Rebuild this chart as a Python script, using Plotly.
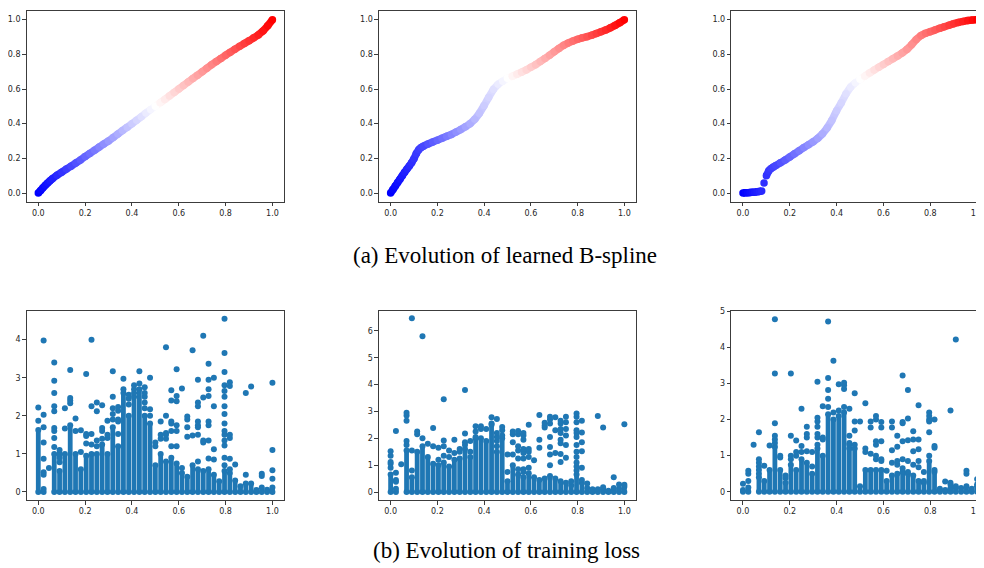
import plotly.graph_objects as go

# ---------------- data: learned B-spline curves ----------------
spline1_x = [0.00, 0.01, 0.02, 0.03, 0.04, 0.05, 0.06, 0.08, 0.10, 0.12, 0.14, 0.16, 0.18, 0.20,
             0.22, 0.24, 0.26, 0.28, 0.30, 0.32, 0.34, 0.36, 0.38, 0.40, 0.42, 0.44, 0.46, 0.48,
             0.50, 0.52, 0.54, 0.56, 0.58, 0.60, 0.62, 0.64, 0.66, 0.68, 0.70, 0.72, 0.74, 0.76,
             0.78, 0.80, 0.82, 0.84, 0.86, 0.88, 0.90, 0.92, 0.94, 0.96, 0.98, 1.00]
spline1_y = [0.000, 0.015, 0.030, 0.045, 0.058, 0.070, 0.082, 0.103, 0.120, 0.138, 0.155, 0.173,
             0.190, 0.210, 0.228, 0.246, 0.265, 0.283, 0.300, 0.320, 0.340, 0.360, 0.380, 0.400,
             0.420, 0.440, 0.462, 0.482, 0.500, 0.520, 0.540, 0.560, 0.580, 0.600, 0.620, 0.640,
             0.660, 0.680, 0.700, 0.720, 0.740, 0.758, 0.776, 0.795, 0.812, 0.830, 0.846, 0.862,
             0.878, 0.895, 0.912, 0.935, 0.965, 1.000]

spline2_x = [0.00, 0.01, 0.02, 0.03, 0.04, 0.05, 0.06, 0.07, 0.08, 0.09, 0.10, 0.11, 0.12, 0.13,
             0.14, 0.16, 0.18, 0.20, 0.22, 0.24, 0.26, 0.28, 0.30, 0.32, 0.34, 0.36, 0.38, 0.40,
             0.42, 0.44, 0.46, 0.48, 0.50, 0.52, 0.54, 0.56, 0.58, 0.60, 0.62, 0.64, 0.66, 0.68,
             0.70, 0.72, 0.74, 0.76, 0.78, 0.80, 0.82, 0.84, 0.86, 0.88, 0.90, 0.92, 0.94, 0.96,
             0.98, 1.00]
spline2_y = [0.000, 0.020, 0.040, 0.060, 0.080, 0.100, 0.120, 0.138, 0.156, 0.175, 0.198, 0.228,
             0.250, 0.262, 0.270, 0.283, 0.294, 0.305, 0.316, 0.327, 0.338, 0.352, 0.366, 0.382,
             0.400, 0.425, 0.460, 0.505, 0.553, 0.598, 0.628, 0.645, 0.662, 0.673, 0.685, 0.697,
             0.710, 0.725, 0.740, 0.758, 0.776, 0.795, 0.815, 0.834, 0.852, 0.866, 0.877, 0.887,
             0.895, 0.902, 0.910, 0.920, 0.930, 0.940, 0.953, 0.967, 0.982, 1.000]

spline3_x = [0.00, 0.01, 0.02, 0.03, 0.04, 0.05, 0.06, 0.07, 0.08, 0.09, 0.10, 0.11, 0.12, 0.13,
             0.14, 0.16, 0.18, 0.20, 0.22, 0.24, 0.26, 0.28, 0.30, 0.32, 0.34, 0.36, 0.38, 0.40,
             0.42, 0.44, 0.46, 0.48, 0.50, 0.52, 0.54, 0.56, 0.58, 0.60, 0.62, 0.64, 0.66, 0.68,
             0.70, 0.72, 0.74, 0.76, 0.78, 0.80, 0.82, 0.84, 0.86, 0.88, 0.90, 0.92, 0.94, 0.96,
             0.98, 1.00]
spline3_y = [0.000, 0.001, 0.002, 0.003, 0.004, 0.005, 0.007, 0.009, 0.012, 0.058, 0.100, 0.128,
             0.142, 0.150, 0.158, 0.174, 0.190, 0.208, 0.226, 0.244, 0.262, 0.279, 0.296, 0.316,
             0.342, 0.376, 0.420, 0.475, 0.520, 0.572, 0.612, 0.636, 0.656, 0.674, 0.692, 0.709,
             0.726, 0.742, 0.758, 0.774, 0.790, 0.808, 0.828, 0.855, 0.886, 0.908, 0.922, 0.931,
             0.940, 0.950, 0.959, 0.968, 0.977, 0.984, 0.990, 0.995, 0.998, 1.000]

# ---------------- data: training loss scatter ----------------
# samples sit on 45 input columns, x = k / 44
n_cols = 44
# height of the solid stack of points in every column (None = no stack)
loss1_stack = [1.63, 0.08, None, 1.0, 0.55, 1.0, 1.75, 1.0, 0.6, 0.95, 1.0, 1.0, 1.25, 1.0, 1.7,
               1.2, 2.6, 2.0, 2.5, 2.7, 2.0, 1.8, 0.7, 1.0, 0.8, 0.9, 0.75, 0.5, 0.4, 0.7, 0.6,
               0.55, 0.6, 0.45, 0.28, 0.55, 0.5, 0.3, 0.15, 0.22, 0.22, 0.05, 0.12, 0.06, 0.12]
loss1_extra = {
    0: [1.87, 2.22], 1: [0.45, 0.52, 0.87, 1.3, 1.7, 2.03, 3.98], 2: [0.63],
    3: [1.18, 1.42, 1.6, 1.68, 2.12, 2.25, 2.6, 2.92, 3.4], 4: [0.78, 0.9, 1.0, 1.1],
    5: [1.67, 2.2], 6: [2.33, 2.4, 2.47, 3.2], 7: [1.6, 1.93], 8: [1.05, 1.62],
    9: [1.27, 1.47, 1.52, 3.1], 10: [1.25, 1.52, 2.25, 4.0], 11: [1.2, 1.35, 2.12, 2.35],
    12: [1.4, 1.6, 1.68, 2.28], 13: [1.42, 1.5, 1.87], 14: [1.9, 2.05, 2.2, 2.5, 3.17],
    15: [1.52, 1.85, 1.9, 2.13, 2.23], 16: [2.7, 2.97], 17: [2.3, 2.45, 2.55],
    18: [2.6, 2.7, 2.8], 19: [2.85, 3.17], 20: [2.2, 2.35, 2.5, 2.6, 2.75], 21: [2.0, 2.17, 3.0],
    22: [1.2, 1.3], 23: [1.4, 1.5, 1.85], 24: [1.4, 1.5, 1.55, 2.0, 3.8],
    25: [1.2, 1.6, 1.8, 1.85, 2.4, 2.67], 26: [1.2, 1.6, 1.75, 2.38, 2.52, 3.22], 27: [0.63, 2.72],
    28: [1.45, 1.7, 1.9, 1.98], 29: [1.48, 3.72], 30: [0.8, 1.5, 1.7, 1.75, 1.85, 2.25, 2.35, 2.95],
    31: [1.3, 1.35, 2.48, 4.1], 32: [0.88, 1.35, 1.75, 1.85, 2.52, 2.7, 2.95, 3.37],
    33: [0.85, 1.12, 2.25, 3.0],
    35: [0.7, 0.9, 1.22, 1.35, 1.5, 1.6, 1.8, 2.05, 2.25, 2.5, 2.65, 2.8, 3.15, 3.65, 4.55],
    36: [0.6, 0.87, 1.42, 1.5, 2.78, 2.88], 37: [0.72], 39: [0.45, 2.6], 40: [2.77],
    42: [0.42, 0.48], 44: [0.35, 0.57, 1.1, 2.87],
}

loss2_stack = [0.65, 0.12, None, 1.55, 0.55, 1.5, 1.7, 1.3, 1.05, 1.0, 1.1, 0.95, 1.2, 1.25, 1.6,
               1.3, 2.0, 2.0, 1.9, 2.5, 1.5, 2.0, 0.4, 1.0, 0.65, 0.55, 0.7, 0.55, 0.45, 0.5, 0.6,
               0.5, 0.4, 0.35, 0.25, 0.65, 0.35, 0.15, 0.1, 0.1, 0.1, 0.05, 0.05, 0.12, 0.2]
loss2_extra = {
    0: [0.9, 1.05, 1.12, 1.35, 1.52], 1: [0.38, 0.45, 0.72, 2.27], 2: [1.03],
    3: [1.75, 1.9, 2.65, 2.85, 2.95], 4: [0.8, 1.55, 6.47], 5: [2.15, 2.25], 6: [2.0, 5.8],
    7: [1.8], 8: [1.7, 2.38], 9: [1.2, 1.65], 10: [1.35, 1.7, 1.92, 3.45], 11: [1.3, 1.55],
    12: [1.45, 1.95], 13: [1.5, 1.6], 14: [1.75, 1.85, 2.18, 3.8], 15: [1.5, 1.9],
    16: [2.05, 2.25, 2.45], 17: [2.35, 2.45], 18: [2.35], 19: [2.55, 2.78],
    20: [1.7, 1.9, 2.05, 2.2, 2.72], 21: [2.1, 2.3, 2.42], 22: [0.75, 1.4],
    23: [1.4, 1.85, 2.15, 2.25], 24: [0.85, 1.25, 1.55, 1.7, 2.15, 2.27],
    25: [0.75, 0.85, 1.25, 1.45, 1.6, 1.95, 2.1, 2.2], 26: [0.9, 1.3, 1.5, 1.6, 2.5], 27: [1.18],
    28: [1.65, 1.95, 2.87], 29: [2.4, 2.48, 2.58], 30: [1.0, 1.4, 1.68, 2.05, 2.55, 2.7, 2.8],
    31: [1.45, 2.3, 2.78], 32: [1.12, 1.42, 1.82, 1.95, 2.2, 2.35, 2.55, 2.65],
    33: [1.28, 1.75, 2.1, 2.35, 2.6, 2.8], 34: [0.4],
    35: [0.8, 0.95, 1.1, 1.3, 1.5, 1.75, 2.05, 2.2, 2.3, 2.6, 2.8, 2.92],
    36: [0.45, 0.9, 1.52, 1.85, 2.22, 2.65], 37: [0.32], 39: [2.83], 40: [0.18, 2.4],
    42: [0.15, 0.55], 43: [0.28], 44: [0.27, 2.52],
}

loss3_stack = [0.05, 0.12, None, 0.4, 0.3, 0.6, 1.25, 0.6, 0.25, 0.75, 0.6, 0.9, 0.8, 0.5, 1.2,
               1.0, 2.15, 2.0, 2.1, 2.2, 1.2, 1.2, 0.15, 0.6, 0.6, 0.6, 0.6, 0.3, 0.45, 0.5, 0.55,
               0.5, 0.45, 0.3, 0.25, 0.85, 0.55, 0.05, 0.05, 0.1, 0.1, 0.1, 0.15, 0.08, 0.15]
loss3_extra = {
    0: [0.22], 1: [0.3, 0.5, 0.58], 2: [1.3], 3: [0.5, 0.6, 0.7, 0.8, 0.9, 1.65], 4: [0.72],
    5: [1.28], 6: [1.35, 1.45, 1.55, 1.9, 3.28, 4.78], 7: [0.95, 1.0], 8: [0.38, 0.45],
    9: [0.9, 1.0, 1.55, 3.28], 10: [1.0, 1.1, 1.42], 11: [1.1, 1.27, 2.3],
    12: [1.12, 1.5, 1.6, 1.8], 13: [0.7, 1.1], 14: [1.3, 1.5, 1.6, 1.8, 1.95, 2.05, 3.05],
    15: [1.45, 1.5, 2.37], 16: [2.35, 2.58, 2.82, 3.15, 4.72], 17: [2.2, 3.63], 18: [2.25, 2.98],
    19: [2.35, 2.85, 2.95, 3.02], 20: [1.3, 1.35, 1.55, 2.3], 21: [1.3, 1.7, 1.95, 2.73],
    22: [1.95], 23: [1.1, 1.2, 2.45], 24: [1.05, 1.78, 1.95], 25: [0.9, 1.0, 1.3, 1.4, 2.0, 2.1],
    26: [0.85, 0.9, 1.4, 1.78, 1.93], 27: [0.58], 28: [0.8, 1.15, 1.78, 1.95],
    29: [0.75, 0.85, 1.25, 1.55], 30: [0.65, 0.9, 1.4, 1.9, 1.93, 3.22],
    31: [0.55, 0.85, 1.43, 2.03, 2.82], 32: [0.75, 1.12, 1.45, 1.68],
    33: [0.68, 0.85, 1.18, 1.45, 2.4], 34: [0.3, 0.55], 35: [1.0, 1.65, 1.95, 2.0, 2.1, 2.2],
    36: [0.6, 1.22, 1.27, 2.0], 37: [0.08], 38: [0.28], 39: [0.2, 0.25, 2.25], 40: [0.15, 4.22],
    42: [0.5, 0.58], 44: [0.2, 0.35],
}

caption_a = "(a) Evolution of learned B-spline"
caption_b = "(b) Evolution of training loss"

# ---------------- layout geometry ----------------
# the page puts the plot 8 px in from the top-left corner of the window, so the
# figure is 8 px smaller and every window position is shifted by 8 px
OFF = 8
W, H = 984 - OFF, 568 - OFF
cols_px = [(25.6, 283.4), (378.3, 635.7), (731.0, 984.0)]
top_px = (7.3, 199.7)
bot_px = (309.3, 500.0)
x_ranges = [[-0.05, 1.05], [-0.05, 1.05], [-0.05, 1.0295]]
loss_yranges = [[-0.22, 4.76], [-0.31, 6.75], [-0.24, 5.02]]
loss_ytick = [[0, 1, 2, 3, 4], [0, 1, 2, 3, 4, 5, 6], [0, 1, 2, 3, 4, 5]]


def px_x(p):
    return (p - OFF) / W


def px_y(p):
    return 1 - (p - OFF) / H


BWR = [[0.0, "rgb(0,0,255)"], [0.5, "rgb(255,255,255)"], [1.0, "rgb(255,0,0)"]]
C0 = "#1f77b4"


def bwr(t):
    t = min(max(t, 0.0), 1.0)
    if t < 0.5:
        s = t / 0.5
        return "rgb(%d,%d,255)" % (round(255 * s), round(255 * s))
    s = (t - 0.5) / 0.5
    return "rgb(255,%d,%d)" % (round(255 * (1 - s)), round(255 * (1 - s)))


fig = go.Figure()

axis_style = dict(showline=True, linecolor="#3c3c3c", linewidth=1, ticks="outside", ticklen=3.5,
                  tickwidth=0.8, tickcolor="#3c3c3c", showgrid=False, zeroline=False,
                  tickfont=dict(family="DejaVu Sans", size=8, color="#262626"))
ticks01 = dict(tickvals=[0, 0.2, 0.4, 0.6, 0.8, 1.0],
               ticktext=["0.0", "0.2", "0.4", "0.6", "0.8", "1.0"])

layout_axes = {}
splines = [(spline1_x, spline1_y), (spline2_x, spline2_y), (spline3_x, spline3_y)]
losses = [(loss1_stack, loss1_extra), (loss2_stack, loss2_extra), (loss3_stack, loss3_extra)]

for i in range(3):
    xl, xr = cols_px[i]
    last = (i == 2)
    xdom = [max(px_x(xl), 0.0), min(px_x(xr), 1.0)]
    # ---- top row: spline ----
    ax_n = i + 1
    xa = "x%d" % ax_n if ax_n > 1 else "x"
    ya = "y%d" % ax_n if ax_n > 1 else "y"
    layout_axes["xaxis%d" % ax_n if ax_n > 1 else "xaxis"] = dict(
        axis_style, domain=xdom, range=x_ranges[i], anchor=ya, mirror=True, **ticks01)
    layout_axes["yaxis%d" % ax_n if ax_n > 1 else "yaxis"] = dict(
        axis_style, domain=[px_y(top_px[1]), min(px_y(top_px[0]), 1.0)], range=[-0.05, 1.05],
        anchor=xa, mirror=not last, **ticks01)
    sx, sy = splines[i]
    for j in range(len(sx) - 1):
        dx = sx[j + 1] - sx[j]
        dy = sy[j + 1] - sy[j]
        if dy / dx > 3.5:
            continue
        fig.add_trace(go.Scatter(x=[sx[j], sx[j + 1]], y=[sy[j], sy[j + 1]], mode="lines",
                                 line=dict(color=bwr((sx[j] + sx[j + 1]) / 2), width=7.5),
                                 xaxis=xa, yaxis=ya, showlegend=False, hoverinfo="skip"))
    fig.add_trace(go.Scatter(x=sx, y=sy, mode="markers",
                             marker=dict(size=7.5, color=sx, colorscale=BWR, cmin=0, cmax=1,
                                         line=dict(width=0)),
                             xaxis=xa, yaxis=ya, showlegend=False))

    # ---- bottom row: loss ----
    ax_n = i + 4
    xa = "x%d" % ax_n
    ya = "y%d" % ax_n
    layout_axes["xaxis%d" % ax_n] = dict(
        axis_style, domain=xdom, range=x_ranges[i], anchor=ya, mirror=True, **ticks01)
    layout_axes["yaxis%d" % ax_n] = dict(
        axis_style, domain=[px_y(bot_px[1]), px_y(bot_px[0])], range=loss_yranges[i],
        anchor=xa, mirror=not last, tickvals=loss_ytick[i])
    stack, extra = losses[i]
    lx, ly, mx, my = [], [], [], []
    for k, h in enumerate(stack):
        if h is None:
            continue
        xk = k / n_cols
        lx += [xk, xk, None]
        ly += [0.0, h, None]
        mx += [xk, xk]
        my += [0.0, h]
    for k, ys in extra.items():
        for yv in ys:
            mx.append(k / n_cols)
            my.append(yv)
    fig.add_trace(go.Scatter(x=lx, y=ly, mode="lines", line=dict(color=C0, width=4.8),
                             xaxis=xa, yaxis=ya, showlegend=False, hoverinfo="skip"))
    fig.add_trace(go.Scatter(x=mx, y=my, mode="markers",
                             marker=dict(size=6, color=C0, line=dict(width=0)),
                             xaxis=xa, yaxis=ya, showlegend=False))

fig.update_layout(
    width=W, height=H, margin=dict(l=0, r=0, t=0, b=0),
    paper_bgcolor="white", plot_bgcolor="white", showlegend=False,
    annotations=[
        dict(text=caption_a, x=px_x(505), y=px_y(254), xref="paper", yref="paper",
             showarrow=False, xanchor="center", yanchor="middle",
             font=dict(family="Liberation Serif", size=23, color="black")),
        dict(text=caption_b, x=px_x(506), y=px_y(550), xref="paper", yref="paper",
             showarrow=False, xanchor="center", yanchor="middle",
             font=dict(family="Liberation Serif", size=23, color="black")),
    ],
    **layout_axes,
)

fig.write_html("out.html")
